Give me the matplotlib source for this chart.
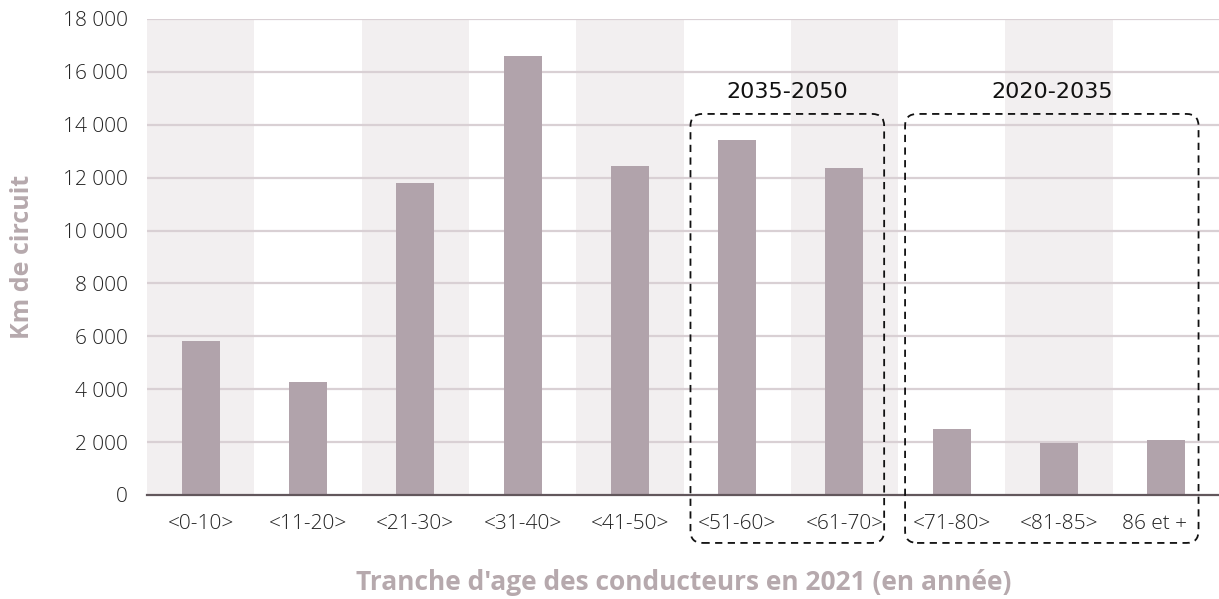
import matplotlib
matplotlib.use("Agg")
import matplotlib.pyplot as plt
from matplotlib.patches import FancyBboxPatch
from matplotlib.ticker import FuncFormatter
from matplotlib.transforms import ScaledTranslation
import numpy as np

# ── Data ──────────────────────────────────────────────────────────────────────
categories = ["<0-10>", "<11-20>", "<21-30>", "<31-40>", "<41-50>",
              "<51-60>", "<61-70>", "<71-80>", "<81-85>", "86 et +"]
km_circuit = [5830, 4280, 11780, 16600, 12450, 13420, 12360, 2500, 1980, 2080]

groups = [("2035-2050", 5, 6), ("2020-2035", 7, 9)]

# ── Style ─────────────────────────────────────────────────────────────────────
BAR_COLOR = "#b1a3ab"
BAND_COLOR = "#f2eff0"
GRID_COLOR = "#d9d0d4"
LABEL_COLOR = "#b6a9ad"
AXIS_COLOR = "#62575c"

plt.rcParams["font.family"] = ["Open Sans", "DejaVu Sans"]

fig = plt.figure(figsize=(12.19, 5.99), dpi=100)
ax = fig.add_axes([147 / 1219, 104 / 599, 1073 / 1219, 476 / 599])

x = np.arange(len(categories))

# alternating background bands
for i in x:
    if i % 2 == 0:
        ax.axvspan(i - 0.5, i + 0.5, color=BAND_COLOR, zorder=0, lw=0)

ax.set_ylim(0, 18000)
ax.set_xlim(-0.5, len(categories) - 0.5)
ax.set_yticks(np.arange(0, 18001, 2000))
for yv in np.arange(2000, 18001, 2000):
    ax.axhline(yv, color=GRID_COLOR, lw=1.6, zorder=1)

ax.bar(x, km_circuit, width=0.355, color=BAR_COLOR, zorder=2)

ax.yaxis.set_major_formatter(FuncFormatter(lambda v, p: f"{int(v):,}".replace(",", " ")))
ax.set_xticks(x)
ax.set_xticklabels(categories)
ax.tick_params(axis="both", length=0, labelsize=15, labelcolor="#222222")
ax.tick_params(axis="y", pad=14, labelsize=15)
ax.tick_params(axis="x", pad=14)
for lab in ax.get_xticklabels() + ax.get_yticklabels():
    lab.set_fontweight("light")

for s in ["top", "right", "left"]:
    ax.spines[s].set_visible(False)
ax.spines["bottom"].set_color(AXIS_COLOR)
ax.spines["bottom"].set_linewidth(1.6)
ax.spines["bottom"].set_zorder(3)

ax.set_ylabel("Km de circuit", fontsize=18, fontweight="bold", color=LABEL_COLOR, labelpad=20)
ax.set_xlabel("Tranche d'age des conducteurs en 2021 (en année)", fontsize=19,
              fontweight="bold", color=LABEL_COLOR, labelpad=25)

# ── Dashed group boxes ────────────────────────────────────────────────────────
fig.canvas.draw()
# last label sits a little left of its slot in the original
last = ax.get_xticklabels()[-1]
last.set_transform(last.get_transform() + ScaledTranslation(-12 / 100, 0, fig.dpi_scale_trans))

to_px = ax.transData.transform
for label, i0, i1 in groups:
    left = i0 - 0.435
    right = i1 + 0.37 if i1 < 9 else i1 + 0.3
    (x0, y1) = to_px((left, 14410))
    (x1, _) = to_px((right, 0))
    y0 = y1 - 429
    box = FancyBboxPatch((x0 + 12, y0 + 12), (x1 - x0) - 24, (y1 - y0) - 24,
                         boxstyle="round,pad=12", transform=None,
                         fill=False, ec="#111111", lw=1.3, ls=(0, (4, 3)),
                         clip_on=False, zorder=5)
    fig.add_artist(box)
    ax.text((left + right) / 2, 15240, label, ha="center", va="center",
            fontsize=16, family="DejaVu Sans", color="#111111")

fig.savefig("out.png", dpi=100)
